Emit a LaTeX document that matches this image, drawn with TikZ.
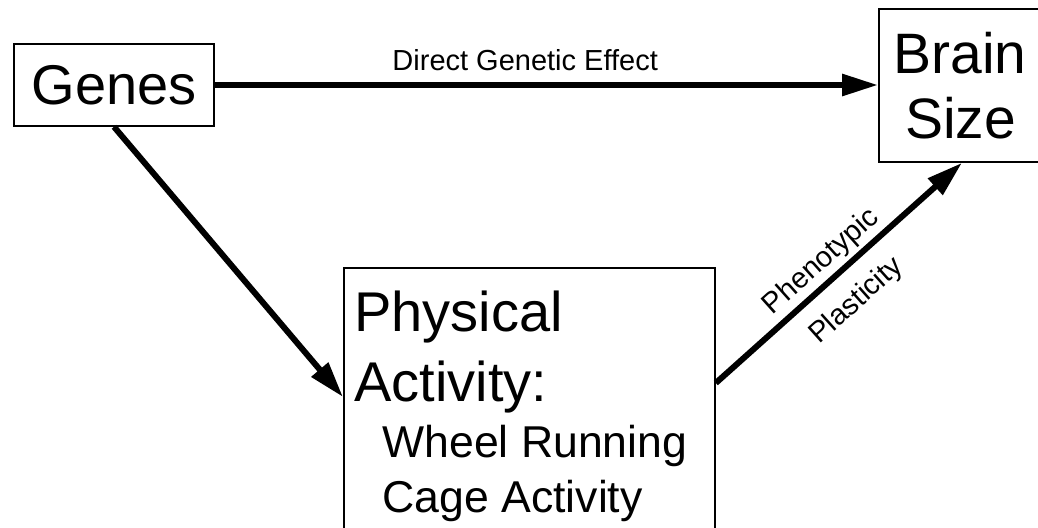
\documentclass[tikz,border=0pt]{standalone}
\usepackage{fontspec}
\setmainfont{Liberation Sans}
\usetikzlibrary{arrows.meta,positioning,calc}
\setlength{\parindent}{0pt}

\begin{document}
\begin{tikzpicture}[
x=0.5pt,y=0.5pt,
box/.style={draw,line width=0.8pt,inner sep=0pt,align=center},
arrow/.style={-{Triangle[length=18pt,width=10.5pt]},line width=3pt},
lbl/.style={font=\fontsize{14.5}{17}\selectfont,anchor=base}
]
\useasboundingbox (0,0) rectangle (1038,527);
\clip (0,0) rectangle (1038,527);
\node[box,minimum width=100pt,minimum height=41pt,font=\fontsize{28}{33}\selectfont] (genes) at (114,442) {Genes};
\node[box,anchor=west,text width=80pt,inner xsep=7.3pt,minimum height=76.5pt,align=flush left,
  font=\fontsize{28.5}{32.5}\selectfont] (brain) at (878,441.5) {Brain\\\hspace*{5.9pt}Size};
\node[box,anchor=north west,text width=175pt,inner xsep=5.3pt,inner ysep=11.75pt,align=flush left] (act) at (343,260)
  {{\fontsize{28}{35}\selectfont Physical\\Activity:\par}
   {\fontsize{22.3}{27.75}\selectfont\hspace*{14pt}Wheel Running\\\hspace*{14pt}Cage Activity\par}};
\coordinate (actin) at ($(act.north west)+(0,-130)$);
\coordinate (actout) at ($(act.north east)+(0,-116)$);
\coordinate (brainin) at ($(brain.south west)+(84,0)$);
\draw[arrow] (genes) -- node[lbl,pos=0.468,yshift=7.5pt]{Direct Genetic Effect} (genes -| brain.west);
\draw[arrow] (genes.south) -- (actin);
\draw[arrow] (actout) -- node[lbl,sloped,pos=0.483,yshift=6.25pt]{Phenotypic}
  node[lbl,sloped,pos=0.483,yshift=-20.25pt]{Plasticity} (brainin);
\end{tikzpicture}
\end{document}
